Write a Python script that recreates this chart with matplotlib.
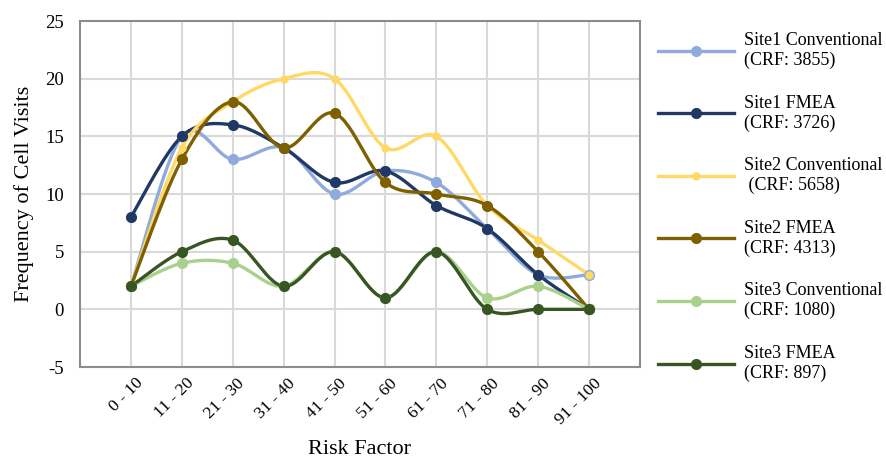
import numpy as np
import matplotlib.pyplot as plt
import matplotlib.transforms as mtransforms

plt.rcParams['font.family'] = ['Liberation Serif', 'DejaVu Serif']
plt.rcParams['axes.unicode_minus'] = False

categories = ['0 - 10', '11 - 20', '21 - 30', '31 - 40', '41 - 50',
              '51 - 60', '61 - 70', '71 - 80', '81 - 90', '91 - 100']

site1_conv = [2, 15, 13, 14, 10, 12, 11, 7, 3, 3]
site1_fmea = [8, 15, 16, 14, 11, 12, 9, 7, 3, 0]
site2_conv = [2, 14, 18, 20, 20, 14, 15, 9, 6, 3]
site2_fmea = [2, 13, 18, 14, 17, 11, 10, 9, 5, 0]
site3_conv = [2, 4, 4, 2, 5, 1, 5, 1, 2, 0]
site3_fmea = [2, 5, 6, 2, 5, 1, 5, 0, 0, 0]

labels = ['Site1 Conventional\n(CRF: 3855)', 'Site1 FMEA\n(CRF: 3726)',
          'Site2 Conventional\n (CRF: 5658)', 'Site2 FMEA\n(CRF: 4313)',
          'Site3 Conventional\n(CRF: 1080)', 'Site3 FMEA\n(CRF: 897)']
colors = ['#8faadc', '#203864', '#ffd966', '#7f6000', '#a9d18e', '#375623']
series = [site1_conv, site1_fmea, site2_conv, site2_fmea, site3_conv, site3_fmea]


def smooth(x, y, n=30):
    # Excel-style smoothed line: cubic bezier through each point
    x = np.asarray(x, float)
    y = np.asarray(y, float)
    px = np.concatenate([[x[0]], x, [x[-1]]])
    py = np.concatenate([[y[0]], y, [y[-1]]])
    xs, ys = [], []
    t = np.linspace(0, 1, n)
    for i in range(1, len(px) - 2):
        p0 = np.array([px[i], py[i]])
        p3 = np.array([px[i + 1], py[i + 1]])
        p1 = p0 + (np.array([px[i + 1], py[i + 1]]) - np.array([px[i - 1], py[i - 1]])) / 6
        p2 = p3 - (np.array([px[i + 2], py[i + 2]]) - np.array([px[i], py[i]])) / 6
        b = ((1 - t) ** 3)[:, None] * p0 + (3 * (1 - t) ** 2 * t)[:, None] * p1 \
            + (3 * (1 - t) * t ** 2)[:, None] * p2 + (t ** 3)[:, None] * p3
        xs.extend(b[:, 0])
        ys.extend(b[:, 1])
    return xs, ys


fig = plt.figure(figsize=(8.87, 4.59), dpi=100)
ax = fig.add_axes([0.0902, 0.2004, 0.6313, 0.7538])

xpos = np.arange(len(categories))
for vals, col, lab in zip(series, colors, labels):
    sx, sy = smooth(xpos, vals)
    ms = 5 if col == '#ffd966' else 7
    ax.plot(sx, sy, color=col, lw=2.4, solid_capstyle='round', zorder=3)
    ax.plot(xpos, vals, 'o', color=col, ms=ms, zorder=4)
    ax.plot([], [], color=col, lw=2.4, marker='o', ms=ms, label=lab)

ax.set_xlim(-1, 10)
ax.set_ylim(-5, 25)
ax.set_yticks(range(-5, 26, 5))
ax.set_xticks(xpos)
ax.set_xticklabels(categories, rotation=45, ha='right', rotation_mode='anchor')
ax.tick_params(length=0, colors='black')
ax.tick_params(axis='x', pad=6, labelsize=12.5)
ax.tick_params(axis='y', pad=11.5, labelsize=13.5)
shift = mtransforms.ScaledTranslation(4 / 100, 0, fig.dpi_scale_trans)
for lbl in ax.get_xticklabels():
    lbl.set_transform(lbl.get_transform() + shift)
ax.grid(True, color='#d9d9d9', lw=1.5)
ax.set_axisbelow(True)
for s in ax.spines.values():
    s.set_color('#8c8c8c')
    s.set_linewidth(1.5)

ax.set_ylabel('Frequency of Cell Visits', fontsize=16)
ax.yaxis.set_label_coords(-0.083, 0.5)
ax.set_xlabel('Risk Factor', fontsize=16)
ax.xaxis.set_label_coords(0.5, -0.212)

fig.legend(loc='upper left', bbox_to_anchor=(658 / 887, 1 - 32 / 459), frameon=False,
           fontsize=13, handlelength=4.2, handletextpad=0.55, labelspacing=1.42,
           borderpad=0, borderaxespad=0)

plt.savefig('out.png', dpi=100)
